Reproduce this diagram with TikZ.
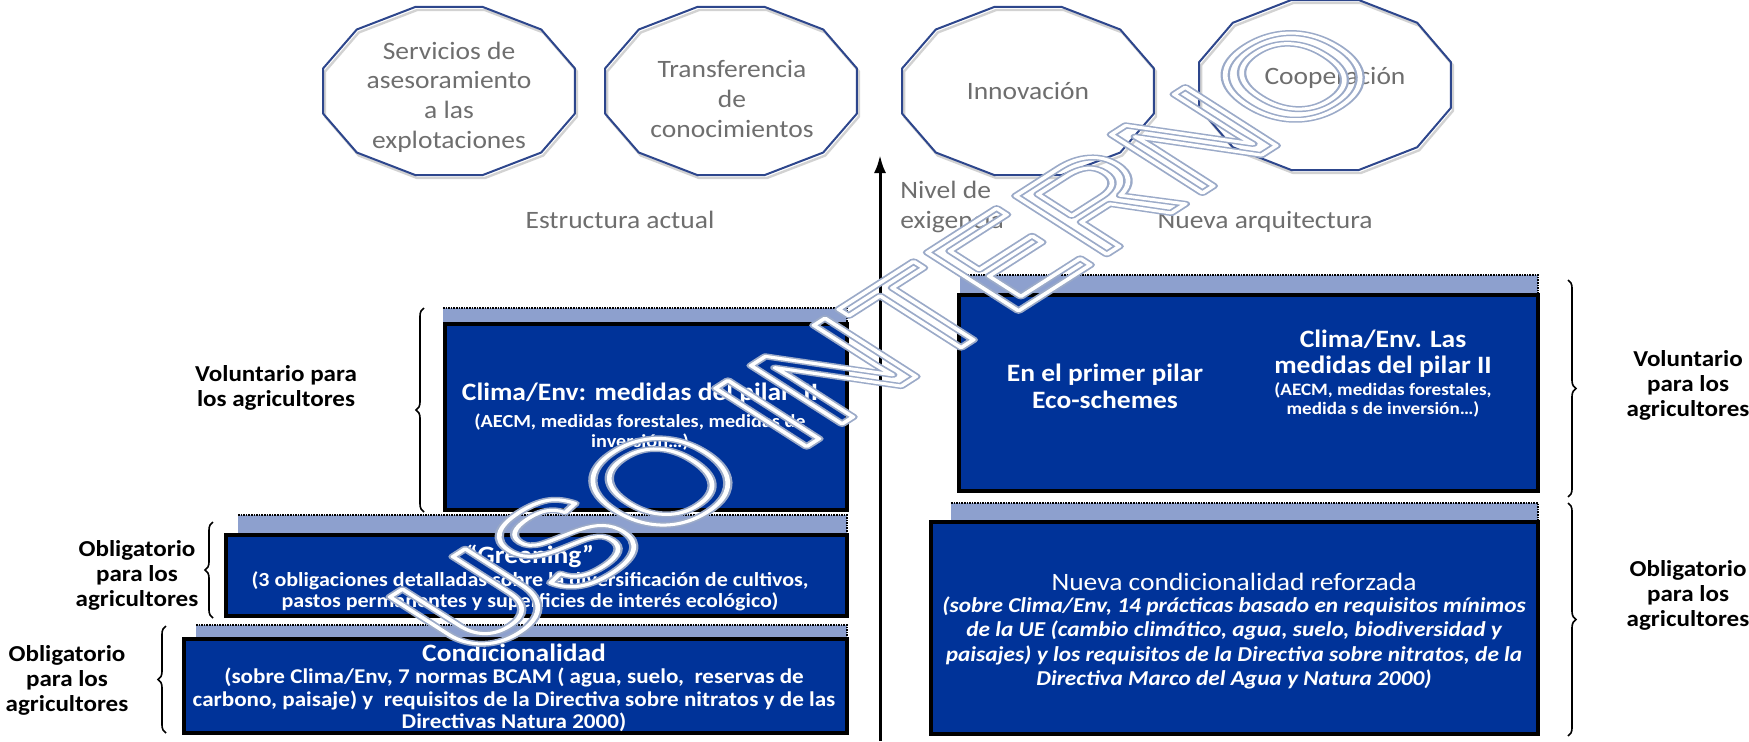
\documentclass[tikz,border=0pt]{standalone}
\usepackage{fontspec}
\setmainfont{Carlito}[FakeStretch=1.1]
\newfontfamily\wmfont{Liberation Sans}
\usetikzlibrary{decorations.pathreplacing,arrows.meta}
\definecolor{boxblue}{RGB}{0,51,153}
\definecolor{bandblue}{RGB}{141,160,206}
\definecolor{polyblue}{RGB}{45,70,140}
\definecolor{labelgray}{RGB}{110,110,110}
\definecolor{wmblue}{RGB}{155,170,200}
\newcommand{\outlinetext}[2]{{\special{pdf:literal direct #1 w 1 j 1 Tr}#2\special{pdf:literal direct 0 Tr}}}
\tikzset{
  poly/.style={draw=polyblue, line width=1pt},
  polyshadow/.style={draw=gray!35, line width=1.2pt},
  toplabel/.style={text=labelgray, font=\fontsize{12.5}{14.8}\selectfont, align=center, inner sep=0pt},
  sidelabel/.style={text=black, font=\bfseries\fontsize{11.4}{12.5}\selectfont, align=center, inner sep=0pt},
  bandfill/.style={fill=bandblue},
  dotline/.style={draw=black, line width=0.9pt, dash pattern=on 0.8pt off 0.5pt},
  darkbox/.style={fill=boxblue, draw=black, line width=2pt},
  boxtitle/.style={text=white, font=\bfseries\fontsize{12.5}{13.5}\selectfont, align=center, inner sep=0pt},
  boxsub/.style={text=white, font=\bfseries\fontsize{10}{10.5}\selectfont, align=center, inner sep=0pt},
  bracestyle/.style={decorate, decoration={brace, amplitude=4pt}, draw=black, line width=0.8pt},
  axisarrow/.style={draw=black, line width=1.5pt, -{Latex[length=9pt,width=6pt]}},
  wmstyle/.style={rotate=45, transform shape, font=\wmfont\fontsize{60}{60}\selectfont, inner sep=0pt},
}
\begin{document}
\begin{tikzpicture}[x=0.5pt,y=-0.5pt]
\useasboundingbox (0,0) rectangle (1749,741);
% ---- top dodecagons
\foreach \cx/\cy/\ry in {449/91/87,731/91/87,1028/91/87,1325/85/88}{
  \draw[polyshadow] plot[samples at={15,45,...,345}, variable=\a] ({\cx+2+130.4*cos(\a)},{\cy+3+\ry*sin(\a)}) -- cycle;
  \draw[poly] plot[samples at={15,45,...,345}, variable=\a] ({\cx+130.4*cos(\a)},{\cy+\ry*sin(\a)}) -- cycle;
}
\node[toplabel] (t1) at (449,97) {Servicios de\\asesoramiento\\a las\\explotaciones};
\node[toplabel] (t2) at (732,99) {Transferencia\\de\\conocimientos};
\node[toplabel] (t3) at (1028,91) {Innovación};
\node[toplabel] (t4) at (1335,78) {Cooperación};
\node[toplabel] (ea) at (620,220) {Estructura actual};
\node[toplabel] (na) at (1265,222) {Nueva arquitectura};
\node[toplabel, align=left, anchor=west] (ne) at (900,207) {Nivel de\\exigencia};
% ---- arrow
\coordinate (abase) at (880,741);
\coordinate (atip) at (880,155);
\draw[axisarrow] (abase) -- (atip);
% ---- left boxes
\fill[bandfill] (443,308) rectangle (847,322);
\draw[dotline] (443,308) -- (847,308) -- (847,322);
\filldraw[darkbox] (445,324) rectangle (847,510);
\fill[bandfill] (238,515) rectangle (847,533);
\draw[dotline] (238,515) -- (847,515) -- (847,533);
\filldraw[darkbox] (226,535) rectangle (847,616);
\fill[bandfill] (196,625) rectangle (847,637);
\draw[dotline] (196,625) -- (847,625) -- (847,637);
\filldraw[darkbox] (184,639) rectangle (847,733);
% ---- right boxes
\fill[bandfill] (960,275) rectangle (1538,293);
\draw[dotline] (960,275) -- (1538,275) -- (1538,293);
\filldraw[darkbox] (959,295) rectangle (1538,491);
\fill[bandfill] (951,503) rectangle (1538,520);
\draw[dotline] (951,503) -- (1538,503) -- (1538,520);
\filldraw[darkbox] (931,522) rectangle (1538,734);
% ---- box texts
\node[boxtitle] (c1t) at (640,394) {Clima/Env: medidas del pilar~~II};
\node[boxsub, font=\bfseries\fontsize{9.2}{10}\selectfont] (c1s) at (640,432) {(AECM, medidas forestales, medidas de\\inversión…)};
\node[boxtitle] (g1t) at (530,556) {“Greening”};
\node[boxsub] (g1s) at (530,591) {(3 obligaciones detalladas sobre la diversificación de cultivos,\\pastos permanentes y superficies de interés ecológico)};
\node[boxtitle] (k1t) at (514,653) {Condicionalidad};
\node[boxsub, font=\bfseries\fontsize{10.5}{11.3}\selectfont] (k1s) at (514,700) {(sobre Clima/Env, 7 normas BCAM ( agua, suelo,~~reservas de\\carbono, paisaje) y~~requisitos de la Directiva sobre nitratos y de las\\Directivas Natura 2000)};
\node[boxtitle, font=\bfseries\fontsize{12.5}{13.5}\selectfont] (r1a) at (1105,386) {En el primer pilar\\Eco-schemes};
\node[boxtitle, font=\bfseries\fontsize{12.5}{13}\selectfont] (r1b) at (1383,354) {Clima/Env. Las\\medidas del pilar II};
\node[boxsub, font=\bfseries\fontsize{8.7}{9.5}\selectfont] (r1c) at (1383,400) {(AECM, medidas forestales,\\medida s de inversión…)};
\node[boxtitle, font=\fontsize{12.5}{13.5}\selectfont] (r2t) at (1234,582) {Nueva condicionalidad reforzada};
\node[boxsub, font=\bfseries\itshape\fontsize{10.6}{12.2}\selectfont] (r2s) at (1234,643) {(sobre Clima/Env, 14 prácticas basado en requisitos mínimos\\de la UE (cambio climático, agua, suelo, biodiversidad y\\paisajes) y los requisitos de la Directiva sobre nitratos, de la\\Directiva Marco del Agua y Natura 2000)};
% ---- side labels
\node[sidelabel] (l1) at (276,388) {Voluntario para\\los agricultores};
\node[sidelabel] (l2) at (137,575) {Obligatorio\\para los\\agricultores};
\node[sidelabel] (l3) at (67,680) {Obligatorio\\para los\\agricultores};
\node[sidelabel] (rl1) at (1688,385) {Voluntario\\para los\\agricultores};
\node[sidelabel] (rl2) at (1688,595) {Obligatorio\\para los\\agricultores};
% ---- braces
\coordinate (b1a) at (424,512); \coordinate (b1b) at (424,308);
\coordinate (b2a) at (213,618); \coordinate (b2b) at (213,522);
\coordinate (b3a) at (166,733); \coordinate (b3b) at (166,626);
\coordinate (b4a) at (1568,280); \coordinate (b4b) at (1568,497);
\coordinate (b5a) at (1568,503); \coordinate (b5b) at (1568,736);
\draw[bracestyle] (b1a) -- (b1b);
\draw[bracestyle] (b2a) -- (b2b);
\draw[bracestyle] (b3a) -- (b3b);
\draw[bracestyle] (b4a) -- (b4b);
\draw[bracestyle] (b5a) -- (b5b);
% ---- watermark
\begin{scope}[shift={(885,338)}, xscale=1.56]
  \node[wmstyle, text=wmblue] (wm1) at (0,0) {\outlinetext{3}{USO INTERNO}};
  \node[wmstyle, text=white] (wm2) at (0,0) {\outlinetext{1.5}{USO INTERNO}};
\end{scope}
\end{tikzpicture}
\end{document}
